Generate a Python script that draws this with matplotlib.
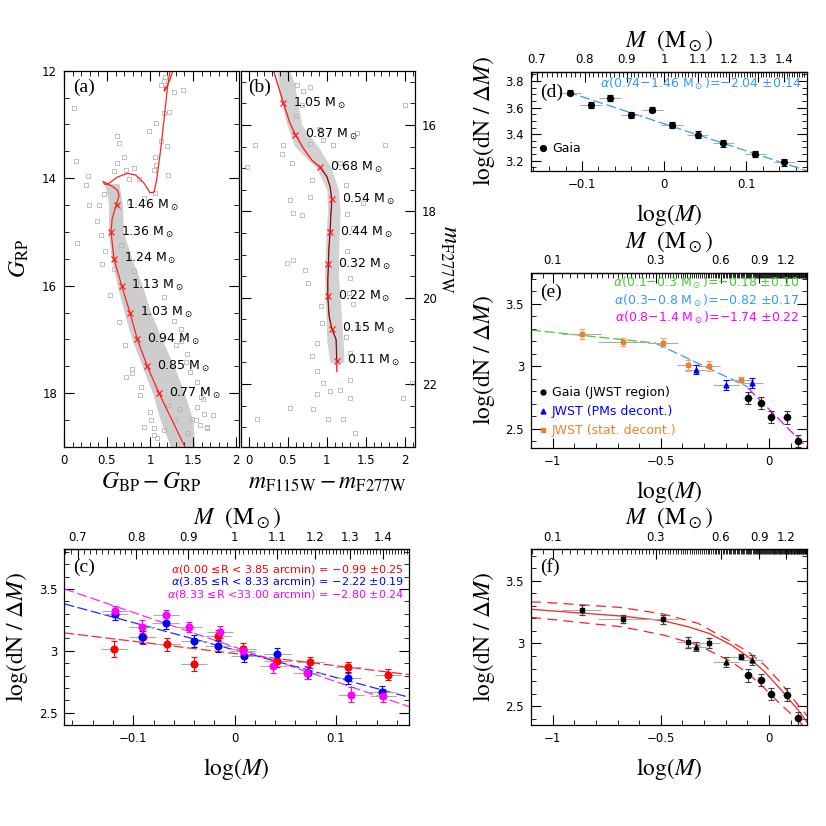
import numpy as np
import matplotlib
matplotlib.use('Agg')
import matplotlib.pyplot as plt
from matplotlib.ticker import MultipleLocator, FixedLocator, FuncFormatter

plt.rcParams['font.family'] = ['DejaVu Sans']
plt.rcParams['mathtext.fontset'] = 'dejavusans'
plt.rcParams['axes.linewidth'] = 0.9

# ---------------- Panel (a): Gaia CMD ----------------
iso_a_col = [1.407, 1.105, 0.969, 0.853, 0.767, 0.671, 0.581, 0.547, 0.56, 0.612, 0.64, 0.62, 0.56, 0.50,
             0.455, 0.47, 0.50, 0.56, 0.62, 0.736, 0.833, 0.93, 1.0, 1.047, 1.078, 1.124, 1.163, 1.20, 1.233]
iso_a_mag = [19.0, 18.0, 17.5, 17.0, 16.5, 16.0, 15.5, 15.0, 14.75, 14.47, 14.32, 14.22, 14.15, 14.10,
             14.06, 14.11, 14.12, 14.05, 13.98, 13.91, 13.94, 14.09, 14.27, 14.26, 14.02, 13.47, 12.91, 12.36, 11.99]
iso_a2_col = [1.27, 1.235, 1.19, 1.165, 1.175]
iso_a2_mag = [11.99, 12.15, 12.32, 12.38, 12.30]
mass_a_lab = ['1.46', '1.36', '1.24', '1.13', '1.03', '0.94', '0.85', '0.77']
mass_a_col = [0.612, 0.547, 0.581, 0.671, 0.767, 0.853, 0.969, 1.105]
mass_a_mag = [14.5, 15.0, 15.5, 16.0, 16.5, 17.0, 17.5, 18.0]
band_a_mag = [14.1, 14.3, 14.5, 15.0, 15.5, 16.0, 16.5, 17.0, 17.5, 18.0, 18.5, 19.0]
band_a_left = [0.47, 0.50, 0.52, 0.515, 0.55, 0.62, 0.70, 0.79, 0.91, 1.03, 1.12, 1.24]
band_a_right = [0.64, 0.66, 0.68, 0.69, 0.79, 0.91, 1.01, 1.14, 1.28, 1.40, 1.50, 1.52]
stars_a_col = [0.116, 0.143, 0.279, 0.252, 0.291, 0.147, 0.62, 0.64, 0.988, 1.066, 1.13, 1.163, 1.22, 1.20,
               1.066, 1.047, 0.58, 0.717, 0.814, 0.872, 0.756, 0.93, 1.388, 1.28, 1.124, 1.163, 1.18, 0.407,
               0.477, 0.612, 1.058, 1.213, 1.058, 1.419, 1.581, 1.659, 1.43, 1.488, 1.333, 1.043, 1.004, 0.888,
               0.791, 0.713, 0.636, 0.539, 0.578, 1.543, 1.62, 1.213, 1.078, 1.29, 1.737, 0.814, 1.163, 1.279,
               1.357, 1.434, 0.717, 0.795, 0.891, 1.008, 0.93, 1.047, 1.163, 1.628, 1.667, 1.55, 1.53, 1.59,
               0.38, 0.43, 0.46, 0.70, 0.76, 1.30, 1.36, 1.46, 0.44, 0.66]
stars_a_mag = [12.70, 13.68, 13.96, 14.13, 14.49, 15.20, 13.22, 13.35, 13.13, 12.97, 13.31, 12.79, 12.76, 13.41,
               13.75, 13.84, 13.87, 13.84, 13.81, 14.02, 14.02, 14.36, 12.35, 12.39, 12.27, 12.20, 12.11, 14.49,
               15.35, 13.72, 13.60, 13.94, 14.28, 17.42, 18.59, 18.65, 18.74, 18.47, 18.29, 18.65, 18.34, 18.04,
               17.54, 17.11, 16.68, 16.18, 15.69, 17.79, 18.10, 18.22, 18.84, 18.50, 18.40, 15.72, 16.21, 16.65,
               17.02, 17.27, 17.70, 17.62, 17.88, 18.50, 18.62, 18.77, 18.68, 18.38, 18.62, 18.26, 18.50, 18.07,
               14.80, 15.05, 14.30, 13.60, 14.45, 17.10, 16.80, 17.60, 15.60, 15.25]

# ---------------- Panel (b): JWST CMD ----------------
iso_b_col = [0.316, 0.444, 0.529, 0.598, 0.70, 0.807, 0.914, 1.0, 1.042, 1.064, 1.051, 1.042, 1.026, 1.021,
             1.013, 1.013, 1.03, 1.064, 1.119, 1.128, 1.128]
iso_b_mag = [14.73, 15.49, 15.96, 16.22, 16.54, 16.81, 16.98, 17.19, 17.43, 17.72, 18.12, 18.48, 18.89, 19.22,
             19.58, 19.97, 20.43, 20.72, 20.97, 21.46, 21.71]
mass_b_lab = ['1.05', '0.87', '0.68', '0.54', '0.44', '0.32', '0.22', '0.15', '0.11']
mass_b_col = [0.444, 0.598, 0.914, 1.064, 1.042, 1.021, 1.013, 1.064, 1.128]
mass_b_mag = [15.49, 16.22, 16.98, 17.72, 18.48, 19.22, 19.97, 20.72, 21.46]
band_b_mag = [14.74, 15.0, 15.5, 16.0, 16.5, 17.0, 17.5, 18.0, 18.5, 19.0, 19.5, 20.0, 20.5, 21.0, 21.5]
band_b_left = [0.36, 0.38, 0.42, 0.49, 0.59, 0.87, 1.00, 1.01, 0.99, 0.98, 0.97, 0.98, 0.99, 1.00, 1.04]
band_b_right = [0.52, 0.58, 0.63, 0.68, 0.89, 1.06, 1.15, 1.17, 1.16, 1.15, 1.15, 1.17, 1.19, 1.21, 1.22]
stars_b_col = [-0.026, 0.081, 0.444, 0.423, 0.551, 0.529, 0.572, 0.679, 0.786, 0.807, 0.487, 0.572, 0.722,
               0.765, 0.807, 0.872, 0.936, 0.957, 0.872, 1.042, 1.17, 1.30, 1.363, 1.213, 1.021, 0.829, 0.529,
               0.102, 1.30, 1.30, 1.406, 1.342, 1.30, 1.256, 1.342, 1.256, 1.47, 1.17, 1.385, 1.75, 2.0, 2.09,
               1.98, 0.786, 0.615, 0.786, 0.679, 1.085, 0.957, 0.70, 0.90, 1.25, 1.28, 1.24, 0.88, 0.92, 0.60]
stars_b_mag = [16.96, 16.46, 16.46, 16.66, 16.89, 17.74, 18.04, 18.08, 17.66, 17.27, 19.20, 19.12, 19.35,
               19.66, 21.36, 21.05, 20.59, 21.97, 22.24, 22.16, 22.13, 22.32, 23.13, 22.82, 22.82, 22.59, 22.55,
               22.82, 21.90, 21.28, 20.69, 20.15, 19.54, 18.92, 18.39, 18.07, 17.80, 16.89, 16.19, 16.46, 15.54,
               21.97, 22.32, 15.11, 15.07, 16.43, 15.54, 16.46, 16.35, 15.20, 16.10, 17.40, 19.90, 20.90, 21.70,
               20.20, 15.80]

# ---------------- Panel (c): radial MFs ----------------
c_red_x = [-0.119, -0.0908, -0.0665, -0.0402, -0.0163, 0.0084, 0.0422, 0.0748, 0.1118, 0.1516]
c_red_y = [3.017, 3.108, 3.052, 2.893, 3.122, 3.015, 2.917, 2.906, 2.866, 2.807]
c_blue_x = [-0.1183, -0.0911, -0.0681, -0.0399, -0.0163, 0.0090, 0.0422, 0.0719, 0.1118, 0.145]
c_blue_y = [3.295, 3.112, 3.225, 3.079, 3.039, 2.960, 2.974, 2.820, 2.780, 2.667]
c_mag_x = [-0.1183, -0.0914, -0.0674, -0.0448, -0.0146, 0.0084, 0.0376, 0.0709, 0.1148, 0.1463]
c_mag_y = [3.319, 3.195, 3.286, 3.195, 3.152, 2.995, 2.874, 2.823, 2.645, 2.637]
c_red_err = [0.065, 0.05, 0.055, 0.055, 0.045, 0.045, 0.05, 0.045, 0.045, 0.045]
c_blue_err = [0.045, 0.05, 0.05, 0.05, 0.05, 0.05, 0.045, 0.045, 0.045, 0.045]
c_mag_err = [0.045, 0.05, 0.045, 0.04, 0.045, 0.045, 0.05, 0.05, 0.06, 0.05]
c_bin_half = 0.013
c_fit_alpha = [-0.99, -2.22, -2.80]
c_fit_icpt = [2.978, 3.006, 3.030]
c_fit_text = ['$\\alpha$(0.00 \u2264R < 3.85 arcmin) = \u22120.99 \u00b10.25',
              '$\\alpha$(3.85 \u2264R < 8.33 arcmin) = \u22122.22 \u00b10.19',
              '$\\alpha$(8.33 \u2264R <33.00 arcmin) = \u22122.80 \u00b10.24']

# ---------------- Panel (d): Gaia MF ----------------
d_x = [-0.1146, -0.089, -0.066, -0.040, -0.0146, 0.0094, 0.0406, 0.072, 0.111, 0.146]
d_y = [3.713, 3.620, 3.672, 3.543, 3.585, 3.470, 3.395, 3.330, 3.252, 3.188]
d_err = [0.022, 0.022, 0.022, 0.022, 0.022, 0.022, 0.025, 0.025, 0.025, 0.025]
d_bin_half = 0.013
d_fit_alpha = -2.04
d_fit_icpt = 3.478
d_fit_range = [-0.118, 0.174]

# ---------------- Panels (e), (f): JWST + Gaia MF ----------------
e_sq_x = [-0.865, -0.6725, -0.489, -0.375, -0.2775, -0.128]
e_sq_y = [3.263, 3.196, 3.191, 3.010, 3.000, 2.895]
e_sq_err = [0.04, 0.03, 0.035, 0.045, 0.04, 0.02]
e_sq_xerr = [0.09, 0.12, 0.07, 0.05, 0.05, 0.06]
e_tri_x = [-0.339, -0.199, -0.080]
e_tri_y = [2.975, 2.852, 2.871]
e_tri_err = [0.035, 0.04, 0.04]
e_tri_xerr = [0.05, 0.06, 0.05]
e_gaia_x = [-0.0985, -0.037, 0.0096, 0.082, 0.1346]
e_gaia_y = [2.746, 2.708, 2.596, 2.593, 2.402]
e_gaia_err = [0.05, 0.05, 0.05, 0.05, 0.05]
e_gaia_xerr = [0.02, 0.02, 0.02, 0.02, 0.02]
e_fit_alpha = [-0.18, -0.82, -1.74]
e_fit_icpt = [3.093, 2.756, 2.658]
e_fit_lo = [-1.10, -0.523, -0.097]
e_fit_hi = [-0.523, -0.097, 0.177]
e_fit_col = ['#44cc33', '#3399ff', '#ff00ff']
e_fit_text = ['$\\alpha$(0.1\u22120.3 M$_\\odot$)=\u22120.18 \u00b10.10',
              '$\\alpha$(0.3\u22120.8 M$_\\odot$)=\u22120.82 \u00b10.17',
              '$\\alpha$(0.8\u22121.4 M$_\\odot$)=\u22121.74 \u00b10.22']
f_mid_x = [-1.10, -0.683, -0.489, -0.375, -0.277, -0.174, -0.097, -0.020, 0.057, 0.135, 0.181]
f_mid_y = [3.272, 3.218, 3.181, 3.133, 3.080, 2.987, 2.894, 2.774, 2.628, 2.468, 2.360]
f_up_x = [-1.10, -1.043, -0.688, -0.4875, -0.328, -0.174, -0.097, -0.020, 0.057, 0.135, 0.181]
f_up_y = [3.330, 3.328, 3.287, 3.234, 3.160, 3.013, 2.934, 2.827, 2.681, 2.508, 2.415]
f_lo_x = [-1.10, -0.683, -0.489, -0.328, -0.174, -0.097, -0.020, 0.057, 0.135, 0.155]
f_lo_y = [3.208, 3.133, 3.067, 2.987, 2.854, 2.761, 2.641, 2.508, 2.388, 2.350]

top_cd_labels = [0.7, 0.8, 0.9, 1.0, 1.1, 1.2, 1.3, 1.4]
top_ef_labels = [0.1, 0.3, 0.6, 0.9, 1.2]

# =====================================================================
fig = plt.figure(figsize=(8.26, 8.26), dpi=100)
W = 826.0

def ax_px(l, r, t, b):
    return fig.add_axes([l / W, 1 - b / W, (r - l) / W, (b - t) / W])

def fmt(v, p=None):
    s = '%g' % v
    if s in ('-0', '-0.0'):
        s = '0'
    return s.replace('-', '\u2212')

def style(ax, top=True):
    ax.tick_params(which='both', direction='in', top=top, right=True, labelsize=8.5, pad=5)
    ax.tick_params(which='major', length=7, width=0.8)
    ax.tick_params(which='minor', length=3.5, width=0.6)

LAB = dict(math_fontfamily='stix', fontsize=17)
GRAY = '#b4b4b4'
RED = '#ff2020'

# ---- (a)
axa = ax_px(64, 239, 70.7, 447)
axa.fill_betweenx(band_a_mag, band_a_left, band_a_right, color='#cdcdcd', lw=0)
axa.plot(stars_a_col, stars_a_mag, ls='none', marker='s', ms=2.4, mfc='none', mec=GRAY, mew=0.6)
axa.plot(iso_a_col, iso_a_mag, color=RED, lw=0.9)
axa.plot(iso_a2_col, iso_a2_mag, color=RED, lw=0.9)
axa.plot(mass_a_col, mass_a_mag, ls='none', marker='x', ms=4, color=RED, mew=0.9)
for c, m, t in zip(mass_a_col, mass_a_mag, mass_a_lab):
    axa.annotate(t + ' M$_\\odot$', (c, m), xytext=(7, 0), textcoords='offset points',
                 va='center', ha='left', fontsize=9)
axa.set_xlim(0, 2.035)
axa.set_ylim(19, 12)
axa.xaxis.set_major_locator(MultipleLocator(0.5))
axa.xaxis.set_minor_locator(MultipleLocator(0.1))
axa.yaxis.set_major_locator(MultipleLocator(2))
axa.yaxis.set_minor_locator(MultipleLocator(0.5))
axa.xaxis.set_major_formatter(FuncFormatter(fmt))
style(axa)
axa.text(0.05, 0.957, '(a)', transform=axa.transAxes, fontsize=14, family='Liberation Serif', va='center')
axa.set_ylabel(r'$G_{\rm RP}$', labelpad=8, **LAB)
axa.set_xlabel(r'$G_{\rm BP}-G_{\rm RP}$', labelpad=2, **LAB)

# ---- (b)
axb = ax_px(240.7, 415, 70.7, 447)
axb.fill_betweenx(band_b_mag, band_b_left, band_b_right, color='#d2d2d2', lw=0)
axb.plot(stars_b_col, stars_b_mag, ls='none', marker='s', ms=2.4, mfc='none', mec=GRAY, mew=0.6)
axb.plot(iso_b_col, iso_b_mag, color=RED, lw=1.0)
axb.plot(iso_b_col[6:20], iso_b_mag[6:20], color='#202020', lw=0.5)
axb.plot(mass_b_col, mass_b_mag, ls='none', marker='x', ms=4, color=RED, mew=0.9)
for c, m, t in zip(mass_b_col, mass_b_mag, mass_b_lab):
    axb.annotate(t + ' M$_\\odot$', (c, m), xytext=(7, 0), textcoords='offset points',
                 va='center', ha='left', fontsize=9)
axb.set_xlim(-0.103, 2.13)
axb.set_ylim(23.46, 14.74)
axb.xaxis.set_major_locator(MultipleLocator(0.5))
axb.xaxis.set_minor_locator(MultipleLocator(0.1))
axb.yaxis.set_major_locator(MultipleLocator(2))
axb.yaxis.set_minor_locator(MultipleLocator(0.5))
axb.xaxis.set_major_formatter(FuncFormatter(fmt))
style(axb)
axb.tick_params(labelleft=False, labelright=True)
axb.text(0.042, 0.957, '(b)', transform=axb.transAxes, fontsize=14, family='Liberation Serif', va='center')
axb.yaxis.set_label_position('right')
axb.set_ylabel(r'$m_{\rm F277W}$', rotation=270, labelpad=18, **LAB)
axb.set_xlabel(r'$m_{\rm F115W}-m_{\rm F277W}$', labelpad=2, **LAB)


def top_axis(ax, labels, mmin, mmax):
    sec = ax.secondary_xaxis('top', functions=(lambda x: 10 ** x,
                                               lambda m: np.log10(np.maximum(m, 1e-6))))
    sec.xaxis.set_major_locator(FixedLocator(labels))
    sec.xaxis.set_major_formatter(FuncFormatter(fmt))
    sec.xaxis.set_minor_locator(FixedLocator(np.round(np.arange(mmin, mmax, 0.01), 2)))
    sec.tick_params(which='both', direction='in', labelsize=8.5, pad=4)
    sec.tick_params(which='major', length=7, width=0.8)
    sec.tick_params(which='minor', length=3.5, width=0.6)
    sec.set_xlabel(r'$M\ \ (\mathrm{M}_\odot)$', labelpad=5, **LAB)
    return sec


def mf_axes(ax, xmaj, xmin_, ymaj, ymin_):
    ax.xaxis.set_major_locator(MultipleLocator(xmaj))
    ax.xaxis.set_minor_locator(MultipleLocator(xmin_))
    ax.yaxis.set_major_locator(MultipleLocator(ymaj))
    ax.yaxis.set_minor_locator(MultipleLocator(ymin_))
    ax.xaxis.set_major_formatter(FuncFormatter(fmt))
    ax.yaxis.set_major_formatter(FuncFormatter(fmt))
    style(ax, top=False)
    ax.set_xlabel(r'$\log(M)$', labelpad=8, **LAB)
    ax.set_ylabel(r'$\log(\mathrm{dN}\ /\ \Delta M)$', labelpad=6, **LAB)


# ---- (c)
axc = ax_px(64.3, 409, 549.3, 725)
axc.set_xlim(-0.168, 0.172)
axc.set_ylim(2.40, 3.82)
xx = np.array(axc.get_xlim())
c_cols = ['#ff0000', '#0000ff', '#ff00ff']
for a_, b_, col in zip(c_fit_alpha, c_fit_icpt, c_cols):
    axc.plot(xx, b_ + a_ * xx, color=col, lw=0.9, dashes=(8, 3), alpha=0.85)
for xs, ys, es, col in [(c_red_x, c_red_y, c_red_err, c_cols[0]),
                        (c_blue_x, c_blue_y, c_blue_err, c_cols[1]),
                        (c_mag_x, c_mag_y, c_mag_err, c_cols[2])]:
    axc.errorbar(xs, ys, xerr=c_bin_half, fmt='none', ecolor='#aaaaaa', elinewidth=0.8, ls=':',
                 capsize=0)
for xs, ys, es, col in [(c_red_x, c_red_y, c_red_err, c_cols[0]),
                        (c_blue_x, c_blue_y, c_blue_err, c_cols[1]),
                        (c_mag_x, c_mag_y, c_mag_err, c_cols[2])]:
    axc.errorbar(xs, ys, yerr=es, fmt='o', color=col, ms=4.8, mec=col, ecolor=col,
                 elinewidth=0.8, capsize=2.5, capthick=0.8)
for i, (t, col) in enumerate(zip(c_fit_text, c_cols)):
    axc.text(0.9855, [0.887, 0.816, 0.745][i], t, color=col, transform=axc.transAxes,
             ha='right', va='center', fontsize=8)
mf_axes(axc, 0.1, 0.02, 0.5, 0.1)
top_axis(axc, top_cd_labels, 0.68, 1.50)
axc.text(0.025, 0.9, '(c)', transform=axc.transAxes, fontsize=14, family='Liberation Serif', va='center')

# ---- (d)
axd = ax_px(531, 807.3, 71.7, 170.7)
axd.set_xlim(-0.162, 0.174)
axd.set_ylim(3.125, 3.87)
xd = np.array(d_fit_range)
axd.plot(xd, d_fit_icpt + d_fit_alpha * xd, color='#3399ff', lw=0.9, dashes=(8, 3))
axd.errorbar(d_x, d_y, xerr=d_bin_half, fmt='none', ecolor='#aaaaaa', elinewidth=0.8, ls=':')
axd.errorbar(d_x, d_y, yerr=d_err, fmt='o', color='black', ms=4.2, elinewidth=0.8, capsize=2.5,
             capthick=0.8)
axd.text(0.98, 0.873, '$\\alpha$(0.74\u22121.46 M$_\\odot$)=\u22122.04 \u00b10.14', color='#3399ff',
         transform=axd.transAxes, ha='right', va='center', fontsize=9)
axd.plot([0.043], [0.229], transform=axd.transAxes, marker='o', color='black', ms=4.2)
axd.text(0.076, 0.229, 'Gaia', transform=axd.transAxes, va='center', fontsize=9)
mf_axes(axd, 0.1, 0.02, 0.2, 0.05)
top_axis(axd, top_cd_labels, 0.68, 1.50)
axd.text(0.033, 0.795, '(d)', transform=axd.transAxes, fontsize=14, family='Liberation Serif', va='center')

# ---- (e)
ORANGE = '#e8822a'
axe = ax_px(531, 807.3, 272.7, 447.7)
axe.set_xlim(-1.10, 0.177)
axe.set_ylim(2.35, 3.75)
for a_, b_, lo, hi, col in zip(e_fit_alpha, e_fit_icpt, e_fit_lo, e_fit_hi, e_fit_col):
    xs = np.array([lo, hi])
    axe.plot(xs, b_ + a_ * xs, color=col, lw=0.9, dashes=(8, 3))
for xs, ys, xe in [(e_sq_x, e_sq_y, e_sq_xerr), (e_tri_x, e_tri_y, e_tri_xerr),
                   (e_gaia_x, e_gaia_y, e_gaia_xerr)]:
    axe.errorbar(xs, ys, xerr=xe, fmt='none', ecolor='#aaaaaa', elinewidth=0.8, ls=':')
axe.errorbar(e_sq_x, e_sq_y, yerr=e_sq_err, fmt='s', color=ORANGE, ms=3.2, ecolor='#f0a878',
             elinewidth=0.9, capsize=2.5, capthick=0.9)
axe.errorbar(e_tri_x, e_tri_y, yerr=e_tri_err, fmt='^', color='#0000ff', ms=3.5, ecolor='#0000ff',
             elinewidth=0.8, capsize=2.5, capthick=0.8)
axe.errorbar(e_gaia_x, e_gaia_y, yerr=e_gaia_err, fmt='o', color='black', ms=4.4, ecolor='#333333',
             elinewidth=0.8, capsize=2.5, capthick=0.8)
for i, (t, col) in enumerate(zip(e_fit_text, e_fit_col)):
    axe.text(0.97, [0.939, 0.84, 0.739][i], t, color=col, transform=axe.transAxes,
             ha='right', va='center', fontsize=9)
leg_y = [0.318, 0.209, 0.101]
leg_m = ['o', '^', 's']
leg_c = ['black', '#0000ff', ORANGE]
leg_t = ['Gaia (JWST region)', 'JWST (PMs decont.)', 'JWST (stat. decont.)']
for yy, mk, col, t in zip(leg_y, leg_m, leg_c, leg_t):
    axe.plot([0.043], [yy], transform=axe.transAxes, marker=mk, color=col, ms=3.5)
    axe.text(0.076, yy, t, color=col, transform=axe.transAxes, va='center', fontsize=9)
mf_axes(axe, 0.5, 0.1, 0.5, 0.1)
top_axis(axe, top_ef_labels, 0.08, 1.51)
axe.text(0.033, 0.888, '(e)', transform=axe.transAxes, fontsize=14, family='Liberation Serif', va='center')

# ---- (f)
axf = ax_px(531, 807.3, 549.3, 725)
axf.set_xlim(-1.10, 0.177)
axf.set_ylim(2.35, 3.75)
axf.plot(f_mid_x, f_mid_y, color=RED, lw=0.9)
axf.plot(f_up_x, f_up_y, color=RED, lw=0.9, dashes=(8, 5))
axf.plot(f_lo_x, f_lo_y, color=RED, lw=0.9, dashes=(8, 5))
for xs, ys, xe in [(e_sq_x, e_sq_y, e_sq_xerr), (e_tri_x, e_tri_y, e_tri_xerr),
                   (e_gaia_x, e_gaia_y, e_gaia_xerr)]:
    axf.errorbar(xs, ys, xerr=xe, fmt='none', ecolor='#aaaaaa', elinewidth=0.8, ls=':')
axf.errorbar(e_sq_x, e_sq_y, yerr=e_sq_err, fmt='s', color='black', ms=3.2, ecolor='#444444',
             elinewidth=0.9, capsize=2.5, capthick=0.9)
axf.errorbar(e_tri_x, e_tri_y, yerr=e_tri_err, fmt='^', color='black', ms=3.5, ecolor='#444444',
             elinewidth=0.8, capsize=2.5, capthick=0.8)
axf.errorbar(e_gaia_x, e_gaia_y, yerr=e_gaia_err, fmt='o', color='black', ms=4.4, ecolor='#444444',
             elinewidth=0.8, capsize=2.5, capthick=0.8)
mf_axes(axf, 0.5, 0.1, 0.5, 0.1)
top_axis(axf, top_ef_labels, 0.08, 1.51)
axf.text(0.033, 0.9, '(f)', transform=axf.transAxes, fontsize=14, family='Liberation Serif', va='center')

fig.savefig('out.png', dpi=100)
